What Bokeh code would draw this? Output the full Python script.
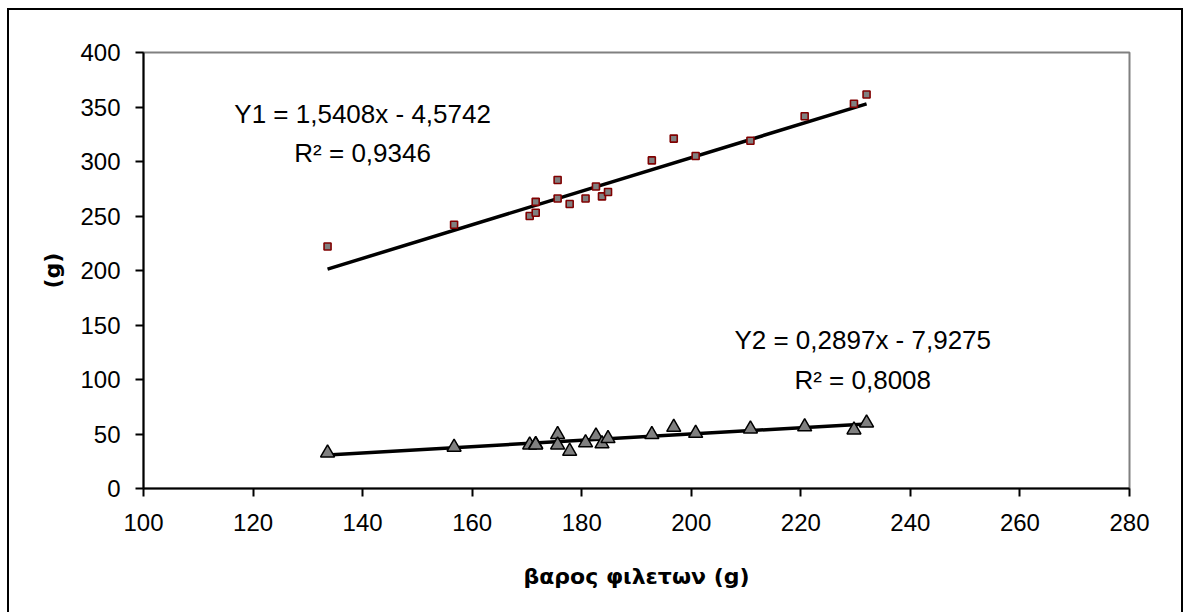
from bokeh.plotting import figure
from bokeh.models import Range1d, FixedTicker
from bokeh.core.properties import value
from bokeh.embed import file_html
from bokeh.resources import INLINE

# ---- data ----
fillet_weight = [133.6, 156.7, 170.5, 171.6, 171.6, 175.6, 175.6, 177.8, 180.7, 182.6,
                 183.7, 184.8, 192.8, 196.8, 200.8, 210.8, 220.7, 229.7, 232.0]
y1_values = [222, 242, 250, 253, 263, 283, 266, 261, 266, 277,
             268, 272, 301, 321, 305, 319, 341.5, 353, 361.5]
y2_values = [32.7, 37.9, 40.0, 40.5, 40.0, 49.5, 40.0, 34.2, 41.9, 48.3,
             41.0, 45.9, 49.5, 56.2, 50.7, 54.7, 56.6, 53.8, 60.2]

# trend-line coefficients (slope, intercept) as printed on the chart
y1_fit = (1.5408, -4.5742)
y2_fit = (0.2897, -7.9275)
y1_labels = ["Y1 = 1,5408x - 4,5742", "R\u00b2 = 0,9346"]
y2_labels = ["Y2 = 0,2897x - 7,9275", "R\u00b2 = 0,8008"]

x_ticks = [100, 120, 140, 160, 180, 200, 220, 240, 260, 280]
y_ticks = [0, 50, 100, 150, 200, 250, 300, 350, 400]
x_title = "βαρος φιλετων (g)"
y_title = "(g)"

TICK_FONT = "Liberation Sans"
TITLE_FONT = "DejaVu Sans"

p = figure(width=1176, height=604,
           x_range=Range1d(100, 280), y_range=Range1d(0, 400),
           output_backend="svg", toolbar_location=None,
           min_border_left=134, min_border_right=56,
           min_border_top=42, min_border_bottom=126)
p.styles = {"margin-left": "7px",
            "margin-top": "8px",
            "border-left": "2px solid black",
            "border-top": "2px solid black",
            "border-right": "2px solid black"}

p.xgrid.visible = False
p.ygrid.visible = False
p.outline_line_color = "#808080"
p.outline_line_width = 2
p.background_fill_color = "white"
p.border_fill_color = "white"

for ax in (p.xaxis[0], p.yaxis[0]):
    ax.axis_line_width = 2
    ax.axis_line_color = "black"
    ax.major_tick_line_width = 2
    ax.major_tick_line_color = "black"
    ax.major_tick_out = 8
    ax.major_tick_in = 0
    ax.minor_tick_line_color = None
    ax.major_label_text_font = TICK_FONT
    ax.major_label_text_font_size = "24px"
    ax.major_label_text_color = "black"
    ax.axis_label_text_font = TITLE_FONT
    ax.axis_label_text_font_style = "bold"
    ax.axis_label_text_color = "black"

p.xaxis.ticker = FixedTicker(ticks=x_ticks)
p.yaxis.ticker = FixedTicker(ticks=y_ticks)
p.xaxis.major_label_standoff = 17
p.yaxis.major_label_standoff = 15
p.xaxis.axis_label = x_title
p.xaxis.axis_label_text_font_size = "22px"
p.xaxis.axis_label_standoff = 30
p.yaxis.axis_label = y_title
p.yaxis.axis_label_text_font_size = "22px"
p.yaxis.axis_label_standoff = 12

# trend lines over the data range
xmin, xmax = min(fillet_weight), max(fillet_weight)
p.line([xmin, xmax], [y1_fit[0] * xmin + y1_fit[1], y1_fit[0] * xmax + y1_fit[1]],
       line_color="black", line_width=3.5)
p.line([xmin, xmax], [y2_fit[0] * xmin + y2_fit[1], y2_fit[0] * xmax + y2_fit[1]],
       line_color="black", line_width=3.5)

# markers
p.scatter(fillet_weight, y1_values, marker="square", size=7,
          fill_color="#808080", line_color="#800000", line_width=1.6)
p.scatter(fillet_weight, y2_values, marker="triangle", size=14,
          fill_color="#808080", line_color="black", line_width=1.5)

# equation labels (data-space positions)
p.text(x=[140, 140], y=[344, 308], text=y1_labels,
       text_align="center", text_baseline="middle",
       text_font=value(TICK_FONT), text_font_size="26px", text_color="black")
p.text(x=[231.3, 231.3], y=[136, 100], text=y2_labels,
       text_align="center", text_baseline="middle",
       text_font=value(TICK_FONT), text_font_size="26px", text_color="black")

open("out.html", "w").write(file_html(p, INLINE))
